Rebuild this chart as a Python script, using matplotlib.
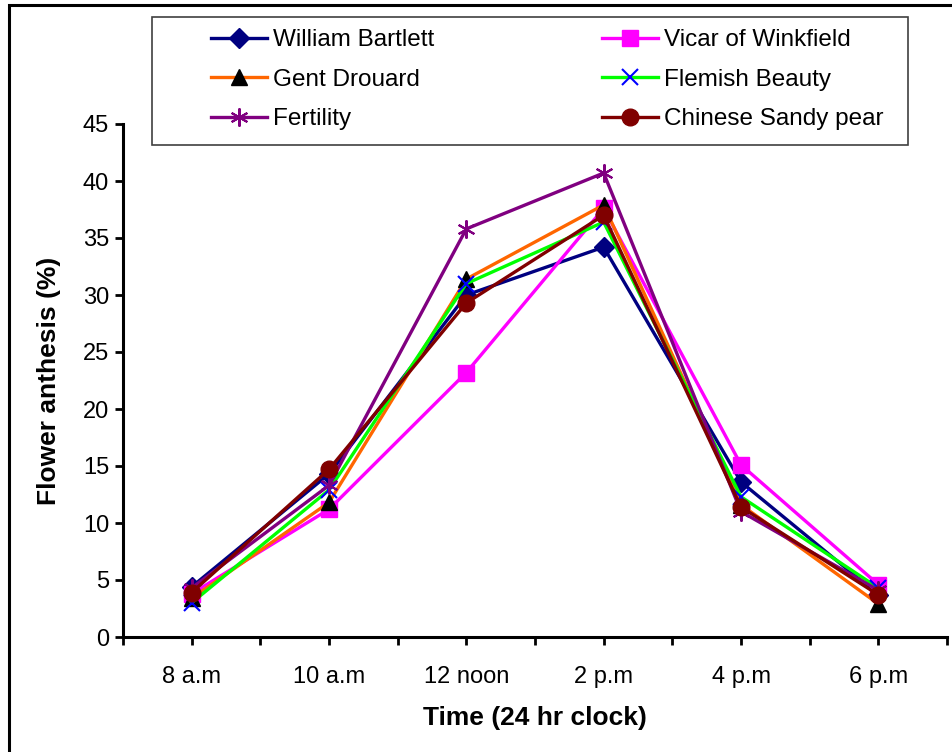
import matplotlib.pyplot as plt
import numpy as np
from matplotlib.patches import Rectangle

plt.rcParams['font.family'] = ['Liberation Sans', 'DejaVu Sans']

times = ['8 a.m', '10 a.m', '12 noon', '2 p.m', '4 p.m', '6 p.m']

william = [4.4, 14.3, 30.0, 34.2, 13.6, 3.7]
vicar = [3.8, 11.2, 23.2, 37.6, 15.1, 4.6]
gent = [3.4, 11.8, 31.4, 37.9, 11.6, 2.9]
flemish = [3.0, 12.9, 31.0, 36.4, 12.3, 4.3]
fertility = [4.3, 13.3, 35.8, 40.7, 11.0, 4.1]
chinese = [3.9, 14.7, 29.3, 37.0, 11.4, 3.7]

series = [
    ('William Bartlett', william, dict(color='#000080', marker='D', markersize=10,
                                       markerfacecolor='#000080', markeredgecolor='#000080')),
    ('Vicar of Winkfield', vicar, dict(color='#FF00FF', marker='s', markersize=11,
                                       markerfacecolor='#FF00FF', markeredgecolor='#FF00FF')),
    ('Gent Drouard', gent, dict(color='#FF6600', marker='^', markersize=11,
                                markerfacecolor='black', markeredgecolor='black')),
    ('Flemish Beauty', flemish, dict(color='#00FF00', marker='x', markersize=11,
                                     markeredgecolor='#0000FF', markeredgewidth=1.5)),
    ('Fertility', fertility, dict(color='#800080', marker=(6, 2, 0), markersize=13,
                                  markeredgecolor='#800080', markeredgewidth=1.5)),
    ('Chinese Sandy pear', chinese, dict(color='#800000', marker='o', markersize=12,
                                         markerfacecolor='#800000', markeredgecolor='#800000')),
]

fig = plt.figure(figsize=(9.52, 7.52), dpi=100)
W, H = 952, 752
ax = fig.add_axes([123 / W, 1 - 637 / H, (947 - 123) / W, (637 - 124) / H])

x = np.arange(len(times))
handles = {}
for name, vals, style in series:
    h, = ax.plot(x, vals, linewidth=2.4, label=name, clip_on=False, **style)
    handles[name] = h

ax.set_xlim(-0.5, len(times) - 0.5)
ax.set_ylim(0, 45)
ax.set_yticks(np.arange(0, 46, 5))
ticks = np.arange(-0.5, len(times), 0.5)
ax.set_xticks(ticks)
ax.set_xticklabels([times[int(t)] if t == int(t) else '' for t in ticks])

for s in ['top', 'right']:
    ax.spines[s].set_visible(False)
for s in ['left', 'bottom']:
    ax.spines[s].set_linewidth(2.2)
ax.tick_params(axis='both', direction='out', length=6, width=2, labelsize=17, pad=4)
ax.tick_params(axis='x', pad=15)

ax.set_xlabel('Time (24 hr clock)', fontsize=19, fontweight='bold', labelpad=13)
ax.set_ylabel('Flower anthesis (%)', fontsize=19, fontweight='bold', labelpad=16)

# legend box drawn separately, Excel style
fig.patches.append(Rectangle((152 / W, 1 - 145 / H), (908 - 152) / W, (145 - 17) / H,
                             transform=fig.transFigure, facecolor='white',
                             edgecolor='#404040', linewidth=1.2, zorder=5))
order = ['William Bartlett', 'Gent Drouard', 'Fertility',
         'Vicar of Winkfield', 'Flemish Beauty', 'Chinese Sandy pear']
leg = fig.legend([handles[n] for n in order], order, ncol=2, frameon=False,
                 loc='upper left', bbox_to_anchor=(211 / W, 1 - 29 / H),
                 fontsize=17.5, handlelength=2.3, handletextpad=0.25,
                 columnspacing=6.9, labelspacing=0.72, borderpad=0, borderaxespad=0)
leg.set_zorder(6)

# outer chart border
fig.patches.append(Rectangle((9 / W, -0.05), 1.2, 1 - 5 / H + 0.05,
                             transform=fig.transFigure, facecolor='none',
                             edgecolor='black', linewidth=2.2, zorder=0))

fig.savefig('out.png', dpi=100)
